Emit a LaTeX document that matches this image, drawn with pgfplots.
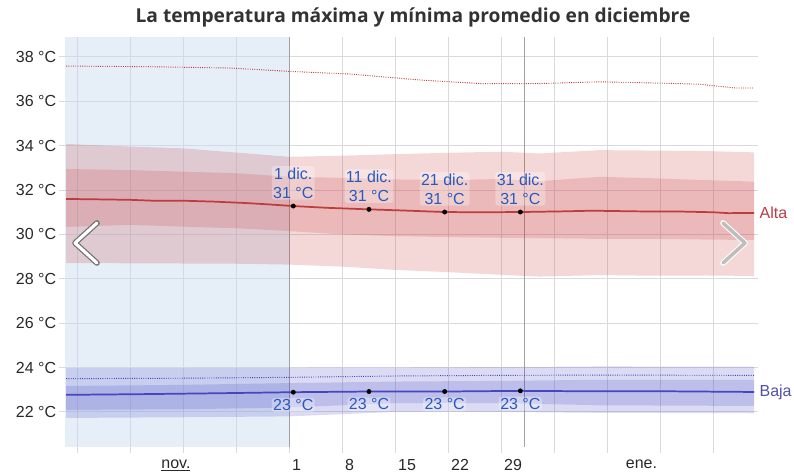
\documentclass[border=0pt]{standalone}
\usepackage{fontspec}
\setmainfont{Liberation Sans}
\newfontfamily\titlefont{Open Sans}
\usepackage{pgfplots}
\pgfplotsset{compat=1.18}

\definecolor{redline}{RGB}{190,60,60}
\definecolor{redband}{RGB}{200,60,60}
\definecolor{blueline}{RGB}{70,70,190}
\definecolor{blueband}{RGB}{75,75,200}
\definecolor{lblblue}{RGB}{40,90,190}
\definecolor{novbg}{RGB}{200,218,240}
\definecolor{gridc}{RGB}{218,218,222}
\definecolor{monthc}{RGB}{160,160,165}
\definecolor{tickc}{RGB}{40,40,40}
\definecolor{altac}{RGB}{185,60,70}
\definecolor{bajac}{RGB}{80,80,170}
\definecolor{titlec}{RGB}{50,50,50}
\definecolor{arrowdark}{RGB}{110,110,110}
\definecolor{arrowlight}{RGB}{190,190,190}

\begin{document}
\begin{tikzpicture}
\useasboundingbox (0,0) rectangle (595.5pt,354.75pt);
\begin{axis}[
    width=519.4pt, height=307.5pt, scale only axis,
    at={(49.1pt,19.5pt)}, anchor=south west,
    xmin=-29.6, xmax=61.9, ymin=20.42, ymax=38.9,
    axis line style={draw=none},
    clip=false,
    xtick={-28,-21,...,56},
    xticklabels={,,,,1,8,15,22,29,,,,},
    ytick={22,24,...,38},
    yticklabels={22 °C,24 °C,26 °C,28 °C,30 °C,32 °C,34 °C,36 °C,38 °C},
    xtick pos=bottom, ytick pos=left,
    tick align=outside, major tick length=4.5pt,
    tick style={gridc, line width=0.8pt},
    grid=major, major grid style={gridc, line width=0.8pt},
    xticklabel style={anchor=north west, xshift=-1.5pt, yshift=-1pt, text=tickc, font=\fontsize{12}{14}\selectfont},
    yticklabel style={text=tickc, font=\fontsize{12}{14}\selectfont, xshift=1pt},
]
% november background
\addplot[draw=none, fill=novbg, fill opacity=0.45] coordinates {(-29.6,20.42) (0,20.42) (0,38.9) (-29.6,38.9)};
% month boundaries
\addplot[monthc, line width=0.8pt] coordinates {(0,20.42) (0,38.9)};
\addplot[monthc, line width=0.8pt] coordinates {(31,20.42) (31,38.9)};

% max: 10-90 band
\addplot[draw=none, fill=redband, fill opacity=0.2] coordinates {
 (-29.5,34.08) (-21,33.96) (-14,33.88) (-7,33.69) (0,33.5) (7,33.55) (14,33.62) (21,33.68) (28,33.73) (33,33.65) (41,33.8) (48,33.78) (55,33.76) (61.4,33.7)
 (61.4,28.13) (55,28.15) (48,28.14) (41,28.17) (33,28.1) (28,28.18) (21,28.3) (14,28.4) (7,28.55) (0,28.64) (-7,28.68) (-14,28.69) (-21,28.7) (-29.5,28.71)};
% max: 25-75 band
\addplot[draw=none, fill=redband, fill opacity=0.2] coordinates {
 (-29.5,32.95) (-21,32.9) (-14,32.83) (-7,32.76) (0,32.6) (7,32.55) (14,32.48) (21,32.45) (28,32.5) (33,32.4) (41,32.6) (48,32.53) (55,32.45) (61.4,32.38)
 (61.4,29.75) (55,29.77) (48,29.8) (41,29.8) (33,29.83) (28,29.85) (21,29.88) (14,29.92) (7,30.0) (0,30.15) (-7,30.28) (-14,30.35) (-21,30.43) (-29.5,30.34)};
% max: dotted upper
\addplot[redline, densely dotted, line width=0.7pt] coordinates {
 (-29.5,37.59) (-18.4,37.56) (-7.8,37.5) (0,37.35) (8,37.23) (17.3,36.96) (25.2,36.8) (33.1,36.8) (41,36.88) (49,36.82) (54.2,36.77) (58.9,36.6) (61.4,36.6)};
% max: mean
\addplot[redline, line width=1.3pt] coordinates {
 (-29.5,31.6) (-25,31.58) (-21,31.56) (-18,31.52) (-14,31.52) (-10,31.48) (-6,31.42) (-3,31.36) (0.5,31.28) (5,31.2) (10.5,31.13) (15,31.08) (20.5,31.01) (25,31.0) (30.5,31.01) (36,31.04) (40,31.07) (46,31.04) (52,31.03) (56,31.0) (58,30.96) (61.4,30.97)};

% min: 10-90 band
\addplot[draw=none, fill=blueband, fill opacity=0.2] coordinates {
 (-29.5,23.98) (-14,23.98) (0,23.99) (14,24.0) (28,24.02) (41,24.05) (61.4,24.04)
 (61.4,21.94) (41,21.96) (28,22.0) (14,22.0) (0,21.8) (-14,21.76) (-29.5,21.73)};
% min: 25-75 band
\addplot[draw=none, fill=blueband, fill opacity=0.2] coordinates {
 (-29.5,23.17) (-14,23.22) (0,23.3) (14,23.37) (28,23.4) (41,23.45) (61.4,23.44)
 (61.4,22.27) (41,22.3) (28,22.4) (14,22.4) (0,22.2) (-14,22.12) (-29.5,22.09)};
% min: dotted upper
\addplot[blueline, densely dotted, line width=0.7pt] coordinates {
 (-29.5,23.5) (-14,23.52) (0,23.56) (14,23.62) (28,23.65) (41,23.66) (61.4,23.65)};
% min: mean
\addplot[blueline, line width=1.3pt] coordinates {
 (-29.5,22.77) (-20,22.8) (-10,22.84) (0.5,22.89) (10.5,22.92) (20.5,22.92) (30.5,22.95) (40,22.93) (50,22.93) (61.4,22.9)};

% points
\addplot[only marks, mark=*, mark size=1.6pt, black] coordinates {(0.5,31.28) (10.5,31.13) (20.5,31.01) (30.5,31.01)};
\addplot[only marks, mark=*, mark size=1.6pt, black] coordinates {(0.5,22.89) (10.5,22.92) (20.5,22.92) (30.5,22.95)};

\tikzset{lbl/.style={inner sep=1pt, text=lblblue, fill=white, fill opacity=0.3, text opacity=1,
  rounded corners=2pt, align=center, font=\fontsize{12}{14.3}\selectfont}}
\node[lbl, yshift=17.4pt] at (axis cs:0.5,31.28) {1 dic.\\31 °C};
\node[lbl, yshift=17.4pt] at (axis cs:10.5,31.13) {11 dic.\\31 °C};
\node[lbl, yshift=17.4pt] at (axis cs:20.5,31.01) {21 dic.\\31 °C};
\node[lbl, yshift=17.4pt] at (axis cs:30.5,31.01) {31 dic.\\31 °C};
\node[lbl, yshift=-9.6pt] at (axis cs:0.5,22.89) {23 °C};
\node[lbl, yshift=-9.6pt] at (axis cs:10.5,22.92) {23 °C};
\node[lbl, yshift=-9.6pt] at (axis cs:20.5,22.92) {23 °C};
\node[lbl, yshift=-9.6pt] at (axis cs:30.5,22.95) {23 °C};

\node[anchor=west, inner sep=1pt, text=altac, font=\fontsize{12}{14}\selectfont] at (axis cs:61.9,30.97) {Alta};
\node[anchor=west, inner sep=1pt, text=bajac, font=\fontsize{12}{14}\selectfont] at (axis cs:61.9,22.9) {Baja};

\node[anchor=north, text=tickc, font=\fontsize{12}{14}\selectfont, yshift=-6.3pt] at (axis cs:-15,20.42) {\underline{nov.}};
\node[anchor=north, text=tickc, font=\fontsize{12}{14}\selectfont, yshift=-6.3pt] at (axis cs:46.5,20.42) {ene.};
\end{axis}

\begin{scope}[shift={(0,354.75pt)}, x=0.75pt, y=-0.75pt]
\node[text=titlec, font=\titlefont\bfseries\fontsize{14.4}{18}\selectfont] at (413,17) {La temperatura máxima y mínima promedio en diciembre};
% navigation arrows
\draw[line width=4.2pt, arrowdark, line cap=round, line join=round] (97,223) -- (75,243) -- (97,263);
\draw[line width=2.4pt, white, line cap=round, line join=round] (97,223) -- (75,243) -- (97,263);
\draw[line width=4.2pt, white, line cap=round, line join=round] (723,223) -- (745,243) -- (723,263);
\draw[line width=2.6pt, arrowlight, line cap=round, line join=round] (723,223) -- (745,243) -- (723,263);
\end{scope}
\end{tikzpicture}
\end{document}
